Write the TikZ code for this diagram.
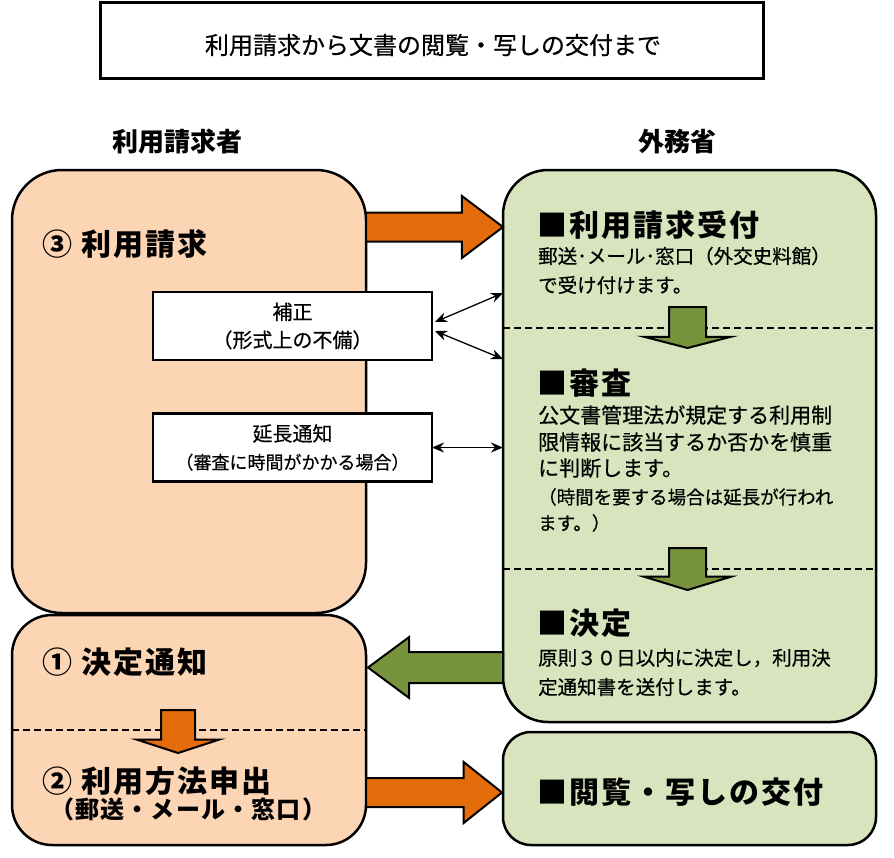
\documentclass[tikz,border=0pt]{standalone}
\usepackage{fontspec}
\setmainfont{Noto Sans CJK JP}
\newfontfamily\thick{Noto Sans CJK JP}[FakeBold=0.5]
\usetikzlibrary{shapes.arrows,arrows.meta,positioning,calc}

\definecolor{peach}{HTML}{FCD5B5}
\definecolor{sage}{HTML}{D7E4BD}
\definecolor{rust}{HTML}{E46C0A}
\definecolor{olive}{HTML}{77933C}

\begin{document}
\begin{tikzpicture}
            [
            x=1pt, y=-1pt,
            panel/.style={draw, line width=2.5pt, inner sep=0pt, outer sep=0pt},
            note/.style={panel, fill=white, minimum width=279pt, minimum height=68pt,
                align=center, font=\thick\fontsize{20}{28}\selectfont},
            head/.style={anchor=west, inner sep=0pt,
                font=\fontsize{30}{30}\selectfont\bfseries\addfontfeature{LetterSpace=7}},
            body/.style={anchor=west, inner sep=0pt, font=\thick\fontsize{19.5}{20}\selectfont},
            big arrow/.style={single arrow, draw, line width=2pt, inner xsep=0pt,
                outer sep=0pt, single arrow head indent=0pt, anchor=tail},
            link/.style={{Stealth[length=12pt,width=10pt]}-{Stealth[length=12pt,width=10pt]},
                line width=1.3pt},
            divider/.style={dash pattern=on 7pt off 4pt, line width=1.2pt}
            ]
            \useasboundingbox (0,0) rectangle (894,857);

            % title and column heads
            \node (title) [panel, line width=3pt, minimum width=663pt, minimum height=76pt]
                at (431.5,40) {};
            \node (titletext) at (433,45) [font=\thick\fontsize{24}{24}\selectfont]
                {利用請求から文書の閲覧・写しの交付まで};
            \node (user) at (177,142) [font=\fontsize{26}{26}\selectfont\bfseries] {利用請求者};
            \node (mofa) at (677,142) [font=\fontsize{26}{26}\selectfont\bfseries] {外務省};

            % panels
            \node (req) [panel, fill=peach, rounded corners=50pt, minimum width=354pt,
                minimum height=443pt] at (189,391.5) {};
            \node (notice) [panel, fill=peach, rounded corners=40pt, minimum width=354pt,
                minimum height=230pt] at (189,730) {};
            \node (office) [panel, fill=sage, rounded corners=45pt, minimum width=373pt,
                minimum height=552pt] at (689.5,446) {};
            \node (deliver) [panel, fill=sage, rounded corners=28pt, minimum width=373pt,
                minimum height=113pt] at (689.5,788.5) {};

            \draw [divider] (503,328) -- (876,328);
            \draw [divider] (503,569) -- (876,569);
            \draw [divider] (12,730) -- (366,730);

            % left texts
            \node (reqtext) [head] at (42,244.5) {③ 利用請求};
            \node (fix) [note] at (292.5,326) {補正\\（形式上の不備）};
            \node (ext) [note] at (292.5,447.5) {延長通知\\{\fontsize{18}{28}\selectfont（審査に時間がかかる場合）}};
            \node (noticetext) [head] at (42,662) {① 決定通知};
            \node (applytext) [head] at (42,781) {② 利用方法申出};
            \node (applysub) [anchor=west, inner sep=0pt,
                font=\fontsize{24}{24}\selectfont\bfseries\addfontfeature{LetterSpace=5}]
                at (50,809) {（郵送・メール・窓口）};

            % right texts
            \node (recv) [head] at (537,225) {■利用請求受付};
            \node (recv1) [body] at (538,256) {郵送･メール･窓口（外交史料館）};
            \node (recv2) [body] at (538,285) {で受け付けます。};
            \node (check) [head] at (537,383) {■審査};
            \node (check1) [body, font=\thick\fontsize{21}{21}\selectfont] at (538,415) {公文書管理法が規定する利用制};
            \node (check2) [body, font=\thick\fontsize{21}{21}\selectfont] at (538,442) {限情報に該当するか否かを慎重};
            \node (check3) [body, font=\thick\fontsize{21}{21}\selectfont] at (538,468) {に判断します。};
            \node (check4) [body, font=\thick\fontsize{18.5}{20}\selectfont] at (538,497) {（時間を要する場合は延長が行われ};
            \node (check5) [body, font=\thick\fontsize{18.5}{20}\selectfont] at (538,523) {ます。）};
            \node (decide) [head] at (537,623) {■決定};
            \node (decide1) [body] at (538,658) {原則３０日以内に決定し，利用決};
            \node (decide2) [body] at (538,687) {定通知書を送付します。};
            \node (delivertext) [head] at (537,792) {■閲覧・写しの交付};

            % block arrows
            \node (go1) [big arrow, fill=rust, minimum height=137pt, inner ysep=13.5pt,
                single arrow head extend=16.5pt, single arrow tip angle=74] at (366,227) {};
            \node (back) [big arrow, fill=olive, rotate=180, minimum height=135pt, inner ysep=14.5pt,
                single arrow head extend=15pt, single arrow tip angle=73] at (503,667.5) {};
            \node (go2) [big arrow, fill=rust, minimum height=136pt, inner ysep=13.5pt,
                single arrow head extend=16pt, single arrow tip angle=77] at (366,792.5) {};
            \node (step1) [big arrow, fill=olive, rotate=-90, minimum height=41pt, inner ysep=17.5pt,
                single arrow head extend=25pt, single arrow tip angle=151] at (687.5,307) {};
            \node (step2) [big arrow, fill=olive, rotate=-90, minimum height=42pt, inner ysep=17.5pt,
                single arrow head extend=25pt, single arrow tip angle=146] at (687.5,548) {};
            \node (step3) [big arrow, fill=rust, rotate=-90, minimum height=43pt, inner ysep=16pt,
                single arrow head extend=24.5pt, single arrow tip angle=144] at (178,710) {};

            % thin links
            \coordinate (in1) at (503,293);
            \coordinate (in2) at (503,359);
            \coordinate (in3) at (503,447.5);
            \draw [link] ($(fix.east)+(3,-4)$) -- (in1);
            \draw [link] ($(fix.east)+(3,5)$) -- (in2);
            \draw [link] (ext.east) -- (in3);
        \end{tikzpicture}
\end{document}
